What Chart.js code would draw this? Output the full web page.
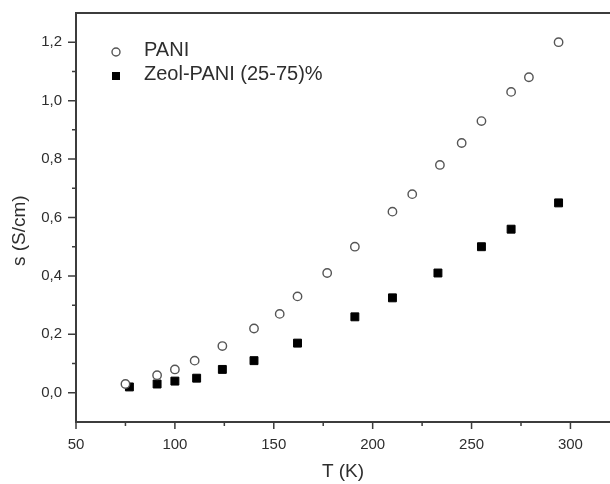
<!DOCTYPE html>
<html lang="en">
<head>
    <meta charset="UTF-8">
    <title>PANI conductivity</title>
    <style>
        body {
            margin: 0;
            background-color: #fff;
        }

        .chart-box {
            width: 610px;
            height: 484px;
        }
    </style>
    <script src="https://cdn.jsdelivr.net/npm/chart.js"></script>
</head>
<body>

    <div class="chart-box">
        <canvas id="condChart" width="610" height="484"></canvas>
    </div>

    <script>
        // values
        var paniT = [75, 91, 100, 110, 124, 140, 153, 162, 177, 191, 210, 220, 234, 245, 255, 270, 279, 294];
        var paniS = [0.03, 0.06, 0.08, 0.11, 0.16, 0.22, 0.27, 0.33, 0.41, 0.50, 0.62, 0.68, 0.78, 0.855, 0.93, 1.03, 1.08, 1.20];
        var zeolT = [77, 91, 100, 111, 124, 140, 162, 191, 210, 233, 255, 270, 294];
        var zeolS = [0.02, 0.03, 0.04, 0.05, 0.08, 0.11, 0.17, 0.26, 0.325, 0.41, 0.50, 0.56, 0.65];

        var seriesNames = ['PANI', 'Zeol-PANI (25-75)%'];

        var xTicks = [50, 100, 150, 200, 250, 300];
        var xMinorTicks = [75, 125, 175, 225, 275];
        var yTicks = [0.0, 0.2, 0.4, 0.6, 0.8, 1.0, 1.2];
        var yMinorTicks = [0.1, 0.3, 0.5, 0.7, 0.9, 1.1];

        var axisColor = '#3c3c3c';
        var textColor = '#2e2e2e';
        var fontFamily = '"Liberation Sans", Arial, sans-serif';

        function toPoints(xs, ys) {
            return xs.map(function (x, i) {
                return { x: x, y: ys[i] };
            });
        }

        // outward tick marks, major and minor
        var tickMarks = {
            id: 'tickMarks',
            afterDraw: function (chart) {
                var ctx = chart.ctx;
                var area = chart.chartArea;
                var xs = chart.scales.x;
                var ys = chart.scales.y;
                ctx.save();
                ctx.strokeStyle = axisColor;
                ctx.lineWidth = 1.5;
                ctx.beginPath();
                xTicks.forEach(function (v) {
                    var px = xs.getPixelForValue(v);
                    ctx.moveTo(px, area.bottom);
                    ctx.lineTo(px, area.bottom + 7);
                });
                xMinorTicks.forEach(function (v) {
                    var px = xs.getPixelForValue(v);
                    ctx.moveTo(px, area.bottom);
                    ctx.lineTo(px, area.bottom + 4);
                });
                yTicks.forEach(function (v) {
                    var py = ys.getPixelForValue(v);
                    ctx.moveTo(area.left, py);
                    ctx.lineTo(area.left - 8, py);
                });
                yMinorTicks.forEach(function (v) {
                    var py = ys.getPixelForValue(v);
                    ctx.moveTo(area.left, py);
                    ctx.lineTo(area.left - 4, py);
                });
                ctx.stroke();
                ctx.restore();
            }
        };

        // legend drawn inside the plot, top left
        var innerLegend = {
            id: 'innerLegend',
            afterDraw: function (chart) {
                var ctx = chart.ctx;
                var area = chart.chartArea;
                var x0 = area.left + 40;
                var y0 = area.top + 39;
                ctx.save();
                ctx.font = '20px ' + fontFamily;
                ctx.textBaseline = 'middle';
                chart.data.datasets.forEach(function (ds, i) {
                    var cy = y0 + i * 24;
                    ctx.lineWidth = ds.borderWidth;
                    ctx.strokeStyle = ds.borderColor;
                    ctx.fillStyle = ds.backgroundColor;
                    ctx.beginPath();
                    if (ds.pointStyle === 'rect') {
                        ctx.rect(x0 - 4, cy - 4, 8, 8);
                        ctx.fill();
                    } else {
                        ctx.arc(x0, cy, 4, 0, Math.PI * 2);
                        ctx.fill();
                        ctx.stroke();
                    }
                    ctx.fillStyle = textColor;
                    ctx.fillText(ds.label, x0 + 28, cy - 2);
                });
                ctx.restore();
            }
        };

        var ctx = document.getElementById('condChart').getContext('2d');
        var chart = new Chart(ctx, {
            type: 'scatter',
            data: {
                datasets: [{
                    label: seriesNames[0],
                    data: toPoints(paniT, paniS),
                    pointStyle: 'circle',
                    pointRadius: 4.2,
                    borderWidth: 1.4,
                    borderColor: '#555',
                    backgroundColor: '#fff'
                }, {
                    label: seriesNames[1],
                    data: toPoints(zeolT, zeolS),
                    pointStyle: 'rect',
                    pointRadius: 5.6,
                    borderWidth: 1,
                    borderColor: '#000',
                    backgroundColor: '#000'
                }]
            },
            options: {
                responsive: false,
                animation: false,
                layout: {
                    autoPadding: false,
                    padding: { left: 8, top: 13, right: 0, bottom: 0 }
                },
                plugins: {
                    legend: { display: false },
                    tooltip: { enabled: false }
                },
                scales: {
                    x: {
                        type: 'linear',
                        position: 'bottom',
                        min: 50,
                        max: 320,
                        afterBuildTicks: function (scale) {
                            scale.ticks = xTicks.map(function (v) { return { value: v }; });
                        },
                        afterFit: function (scale) {
                            scale.height = 62;
                            scale.paddingLeft = 0;
                            scale.paddingRight = 0;
                        },
                        grid: { display: false, drawTicks: false },
                        border: { display: true, color: axisColor, width: 2 },
                        ticks: {
                            padding: 14,
                            color: textColor,
                            font: { family: fontFamily, size: 15 },
                            maxRotation: 0
                        },
                        title: {
                            display: true,
                            text: 'T (K)',
                            color: textColor,
                            font: { family: fontFamily, size: 19 },
                            padding: { top: 0, bottom: 1 }
                        }
                    },
                    xTop: {
                        type: 'linear',
                        position: 'top',
                        display: true,
                        min: 50,
                        max: 320,
                        afterFit: function (scale) {
                            scale.height = 0;
                            scale.paddingLeft = 0;
                            scale.paddingRight = 0;
                        },
                        grid: { display: false, drawTicks: false },
                        border: { display: true, color: axisColor, width: 2 },
                        ticks: { display: false }
                    },
                    y: {
                        type: 'linear',
                        min: -0.1,
                        max: 1.3,
                        afterBuildTicks: function (scale) {
                            scale.ticks = yTicks.map(function (v) { return { value: v }; });
                        },
                        afterFit: function (scale) {
                            scale.width = 68;
                            scale.paddingTop = 0;
                            scale.paddingBottom = 0;
                        },
                        grid: { display: false, drawTicks: false },
                        border: { display: true, color: axisColor, width: 2 },
                        ticks: {
                            padding: 14,
                            color: textColor,
                            font: { family: fontFamily, size: 15 },
                            callback: function (v) {
                                return Number(v).toFixed(1).replace('.', ',');
                            }
                        },
                        title: {
                            display: true,
                            // trailing spaces nudge the rotated title a little lower, as in the figure
                            text: 's (S/cm)     ',
                            color: textColor,
                            font: { family: fontFamily, size: 19 },
                            padding: 0
                        }
                    }
                }
            },
            plugins: [tickMarks, innerLegend]
        });
    </script>

</body>
</html>
